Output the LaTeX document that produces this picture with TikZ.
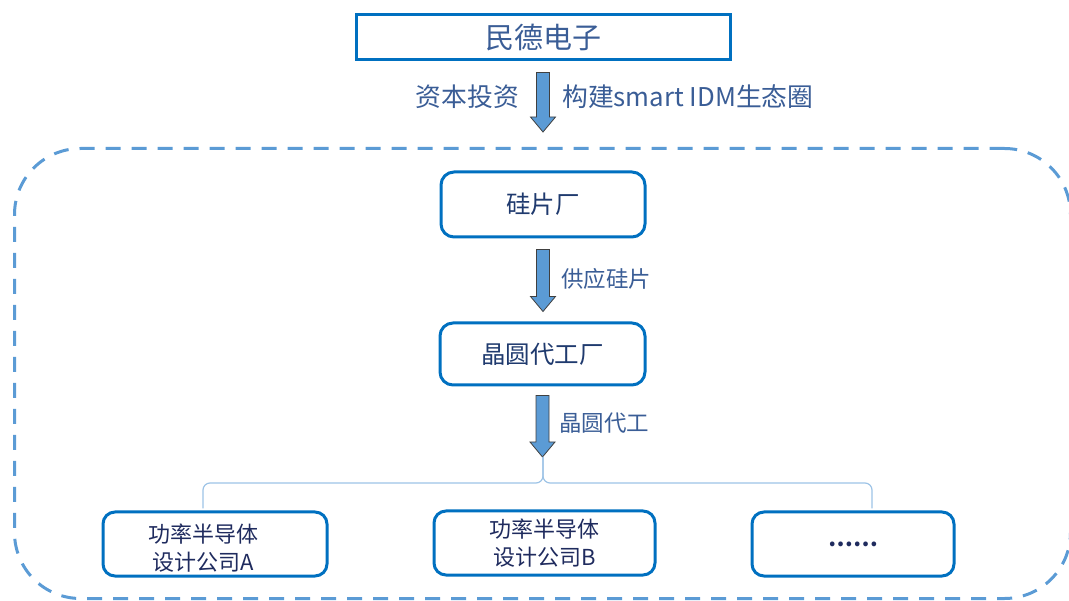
\documentclass[tikz,border=0pt]{standalone}
\usepackage{fontspec}
\setmainfont{Noto Sans CJK SC}
\usetikzlibrary{calc}
\definecolor{boxblue}{HTML}{0070C0}
\definecolor{dashblue}{HTML}{5B9BD5}
\definecolor{arrowfill}{HTML}{5B9BD5}
\definecolor{lblcol}{HTML}{3A5D96}
\definecolor{innertxt}{HTML}{1F3A6E}
\definecolor{bottxt}{HTML}{1F2B5E}
\definecolor{brk}{HTML}{9DC3E6}
\tikzset{
  sharpbox/.style={draw=boxblue, line width=3pt, minimum width=374pt, minimum height=45pt, inner sep=0pt, text=lblcol, font=\fontsize{29}{32}\selectfont},
  roundbox/.style={draw=boxblue, line width=3pt, rounded corners=13pt, inner sep=0pt, text=innertxt, font=\fontsize{24.5}{28}\selectfont},
  botbox/.style={draw=boxblue, line width=3pt, rounded corners=12pt, inner sep=0pt, minimum height=64pt},
  bottext/.style={text=bottxt, align=center, inner sep=0pt, font=\fontsize{22}{28}\selectfont},
  lbl/.style={text=lblcol, inner sep=0pt},
  blockarrow/.style={draw=black!75, line width=0.8pt, fill=arrowfill,
    to path={let \p1=(\tikztostart), \p2=(\tikztotarget) in
      (\x1-6.5pt,\y1) -- (\x1+6.5pt,\y1) -- (\x1+6.5pt,\y2+15pt) -- (\x1+12.5pt,\y2+15pt)
      -- (\x1,\y2) -- (\x1-12.5pt,\y2+15pt) -- (\x1-6.5pt,\y2+15pt) -- cycle}},
  bracket/.style={draw=brk, line width=1.2pt, rounded corners=7pt}
}
\begin{document}
\begin{tikzpicture}[x=1pt,y=-1pt]
\useasboundingbox (0,0) rectangle (1069,601);
% container
\node[draw=dashblue, line width=3pt, dash pattern=on 15pt off 11pt, rounded corners=66pt,
      minimum width=1056pt, minimum height=450pt, inner sep=0pt] (cont) at (542.5,373.5) {};
% top box
\node[sharpbox] (top) at (543,37.5) {民德电子};
% inner boxes
\node[roundbox, minimum width=204pt, minimum height=65pt] (si) at (543,204.5) {硅片厂};
\node[roundbox, minimum width=205pt, minimum height=62pt] (fab) at (542.5,354) {晶圆代工厂};
% bottom boxes
\node[botbox, minimum width=224pt] (A) at (215,544) {};
\node[bottext] (Atxt) at ([xshift=-12pt,yshift=-4.5pt]A.center) {功率半导体\\设计公司A};
\node[botbox, minimum width=221pt] (B) at (544.5,543) {};
\node[bottext] (Btxt) at (B.center) {功率半导体\\设计公司B};
\node[botbox, minimum width=202pt] (C) at (853,544) {};
\node[bottext, font=\bfseries\fontsize{22}{28}\selectfont] (Ctxt) at (C.center) {……};
% arrows
\draw[blockarrow] ([yshift=-11pt]top.south) to ([yshift=15pt]cont.north);
\draw[blockarrow] ([yshift=-11pt]si.south) to ([yshift=10pt]fab.north);
\coordinate (tip) at (543,457);
\draw[blockarrow] ([yshift=-9pt]fab.south) to (tip);
% labels
\node[lbl, anchor=east, font=\fontsize{25.8}{28}\selectfont] (l1) at (519,97) {资本投资};
\node[lbl, anchor=west, font=\fontsize{25.8}{28}\selectfont] (l2) at (562,97) {构建smart IDM生态圈};
\node[lbl, anchor=west, font=\fontsize{22.5}{25}\selectfont] (l3) at (561,279) {供应硅片};
\node[lbl, anchor=west, font=\fontsize{22.5}{25}\selectfont] (l4) at (559,423) {晶圆代工};
% bracket
\coordinate (bar) at (543,483);
\coordinate (la) at ([xshift=-12pt,yshift=2pt]A.north);
\coordinate (lc) at ([xshift=19pt,yshift=2pt]C.north);
\draw[bracket] (tip) -- (bar) -| (la);
\draw[bracket] (tip) -- (bar) -| (lc);
\end{tikzpicture}
\end{document}
